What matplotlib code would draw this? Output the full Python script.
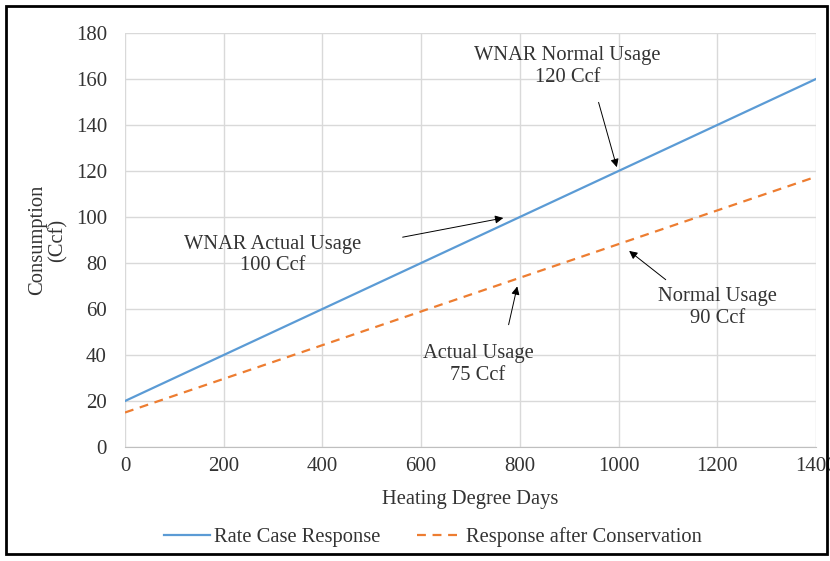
import numpy as np
import matplotlib
matplotlib.use("Agg")
import matplotlib.pyplot as plt
from matplotlib.patches import Rectangle

plt.rcParams["font.family"] = ["Liberation Serif", "DejaVu Serif"]

# Dati: retta di consumo vs gradi giorno
hdd = [0, 1400]
risposta_tariffa = [20, 160]
risposta_conservazione = [15, 117.5]

# Annotazioni: testo, posizione testo, coda freccia, punta freccia
note = [
    ("WNAR Normal Usage\n120 Ccf", (897, 165.5), (958, 151), (998, 120.5)),
    ("WNAR Actual Usage\n100 Ccf", (300, 83.5), (557, 91), (772, 99.8)),
    ("Actual Usage\n75 Ccf", (715, 36), (776, 52), (796, 71)),
    ("Normal Usage\n90 Ccf", (1201, 60.5), (1100, 72), (1017, 86)),
]

fs = 14.8
grigio = "#333333"

fig = plt.figure(figsize=(8.3, 5.61), dpi=100)
ax = fig.add_axes([0.1506, 0.2032, 0.8325, 0.738])

ax.plot(hdd, risposta_tariffa, color="#5B9BD5", lw=1.6, label="Rate Case Response")
ax.plot(hdd, risposta_conservazione, color="#ED7D31", lw=1.6, ls=(0, (4, 3)),
        label="Response after Conservation")

ax.set_xlim(0, 1400)
ax.set_ylim(0, 180)
ax.set_xticks(np.arange(0, 1401, 200))
ax.set_yticks(np.arange(0, 181, 20))
ax.grid(True, color="#d9d9d9", lw=1)
ax.set_axisbelow(True)
for s in ["top", "left", "right"]:
    ax.spines[s].set_visible(False)
ax.spines["bottom"].set_color("#bfbfbf")
ax.tick_params(axis="x", length=0, labelsize=15, colors=grigio, pad=7)
ax.tick_params(axis="y", length=0, labelsize=15, colors=grigio, pad=13)

ax.set_xlabel("Heating Degree Days", fontsize=fs, color=grigio, labelpad=10)
ax.set_ylabel("Consumption\n(Ccf)", fontsize=fs, color=grigio, linespacing=1.05)
ax.yaxis.set_label_coords(-0.083, 0.5)

for testo, pos_testo, coda, punta in note:
    ax.text(pos_testo[0], pos_testo[1], testo, ha="center", va="center",
            fontsize=fs, color=grigio, linespacing=1.2)
    ax.annotate("", xy=punta, xytext=coda,
                arrowprops=dict(arrowstyle="-|>", color="black", lw=0.7,
                                mutation_scale=12))

leg = fig.legend(loc="center", bbox_to_anchor=(0.522, 0.043), ncol=2, frameon=False,
                 fontsize=fs, handlelength=2.2, columnspacing=1.8, handletextpad=0.2)
for t in leg.get_texts():
    t.set_color(grigio)

fig.patches.append(Rectangle((6 / 830, 7 / 561), 821 / 830, 548 / 561,
                             transform=fig.transFigure, fill=False,
                             edgecolor="black", lw=2))

plt.savefig("out.png", dpi=100)
